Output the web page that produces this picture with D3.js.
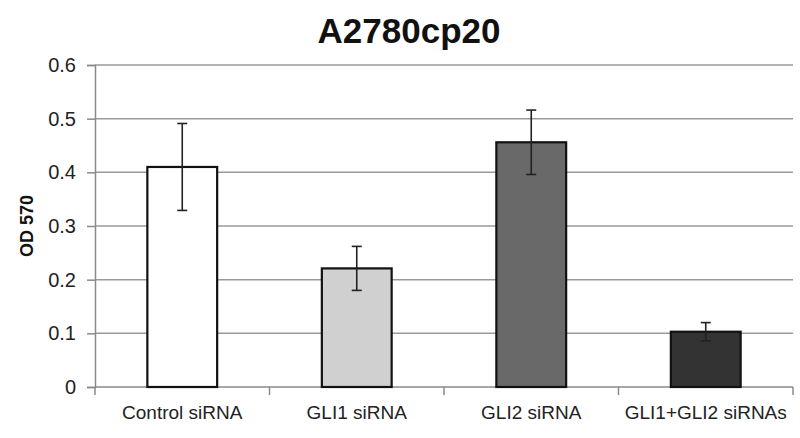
<!DOCTYPE html>
<html lang="en">
<head>
  <meta charset="utf-8">
  <script src="https://d3js.org/d3.v7.min.js"></script>
  <title>A2780cp20</title>
  <style>
    body { margin: 0; background: #fff; }
    text { font-family: "Liberation Sans", Arial, sans-serif; }
  </style>
</head>
<body>
<svg width="800" height="438" id="chart"></svg>
<script>
// data
var categories = ["Control siRNA", "GLI1 siRNA", "GLI2 siRNA", "GLI1+GLI2 siRNAs"];
var values = [0.41, 0.221, 0.456, 0.103];
var errors = [0.081, 0.041, 0.06, 0.017];
var fills = ["#ffffff", "#d0d0d0", "#696969", "#333333"];
var yTicks = [0, 0.1, 0.2, 0.3, 0.4, 0.5, 0.6];

var margin = {top: 65, right: 7, bottom: 51, left: 95};
var svg = d3.select("#chart");
var width = 800 - margin.left - margin.right;
var height = 438 - margin.top - margin.bottom;

var g = svg.append("g").attr("transform", "translate(" + margin.left + "," + margin.top + ")");

var x = d3.scaleBand()
  .domain(categories)
  .range([0, width])
  .paddingInner(0.6)
  .paddingOuter(0.3);

var y = d3.scaleLinear().domain([0, 0.6]).range([height, 0]);

// gridlines
g.selectAll(".grid")
  .data(yTicks.slice(1))
  .enter().append("line")
    .attr("x1", 0).attr("x2", width)
    .attr("y1", function(d) { return y(d); })
    .attr("y2", function(d) { return y(d); })
    .attr("stroke", "#9a9a9a")
    .attr("stroke-width", 1.5);

// y axis
var yAxis = g.append("g")
  .call(d3.axisLeft(y).tickValues(yTicks).tickSize(8).tickPadding(11)
    .tickFormat(function(d) { return d === 0 ? "0" : d3.format(".1f")(d); }));
yAxis.select(".domain").attr("stroke", "#8a8a8a").attr("stroke-width", 1.5);
yAxis.selectAll(".tick line").attr("stroke", "#8a8a8a").attr("stroke-width", 1.5);
yAxis.selectAll("text")
  .style("font-size", "20px").style("fill", "#222")
  .style("font-family", "'Liberation Sans', Arial, sans-serif");

// x axis: ticks sit between categories
var step = x.step();
var bounds = categories.map(function(c) { return x(c) + x.bandwidth() / 2 - step / 2; });
bounds.push(width);
var xg = g.append("g").attr("transform", "translate(0," + height + ")");
xg.append("line").attr("x1", 0).attr("x2", width).attr("stroke", "#8a8a8a").attr("stroke-width", 1.5);
xg.selectAll(".xt")
  .data(bounds)
  .enter().append("line")
    .attr("x1", function(d) { return d; }).attr("x2", function(d) { return d; })
    .attr("y1", 0).attr("y2", 8)
    .attr("stroke", "#8a8a8a").attr("stroke-width", 1.5);
xg.selectAll(".xl")
  .data(categories)
  .enter().append("text")
    .attr("x", function(d) { return x(d) + x.bandwidth() / 2; })
    .attr("y", 32)
    .attr("text-anchor", "middle")
    .style("font-size", "19px")
    .attr("fill", "#222")
    .text(function(d) { return d; });

// bars
g.selectAll(".bar")
  .data(categories)
  .enter().append("rect")
    .attr("x", function(d) { return x(d); })
    .attr("y", function(d, i) { return y(values[i]); })
    .attr("width", x.bandwidth())
    .attr("height", function(d, i) { return height - y(values[i]); })
    .attr("fill", function(d, i) { return fills[i]; })
    .attr("stroke", "#111")
    .attr("stroke-width", 2.2);

// error bars
var eb = g.selectAll(".err")
  .data(categories)
  .enter().append("g")
    .attr("stroke", "#222")
    .attr("stroke-width", 1.6);
eb.append("line")
  .attr("x1", function(d) { return x(d) + x.bandwidth() / 2; })
  .attr("x2", function(d) { return x(d) + x.bandwidth() / 2; })
  .attr("y1", function(d, i) { return y(values[i] + errors[i]); })
  .attr("y2", function(d, i) { return y(values[i] - errors[i]); });
[1, -1].forEach(function(s) {
  eb.append("line")
    .attr("x1", function(d) { return x(d) + x.bandwidth() / 2 - 5; })
    .attr("x2", function(d) { return x(d) + x.bandwidth() / 2 + 5; })
    .attr("y1", function(d, i) { return y(values[i] + s * errors[i]); })
    .attr("y2", function(d, i) { return y(values[i] + s * errors[i]); });
});

// y label
svg.append("text")
  .attr("transform", "translate(33,226) rotate(-90)")
  .attr("text-anchor", "middle")
  .style("font-size", "18px")
  .attr("font-weight", "bold")
  .attr("fill", "#111")
  .text("OD 570");

// title
svg.append("text")
  .attr("x", 409)
  .attr("y", 43)
  .attr("text-anchor", "middle")
  .style("font-size", "35px")
  .attr("font-weight", "bold")
  .attr("fill", "#111")
  .text("A2780cp20");
</script>
</body>
</html>
